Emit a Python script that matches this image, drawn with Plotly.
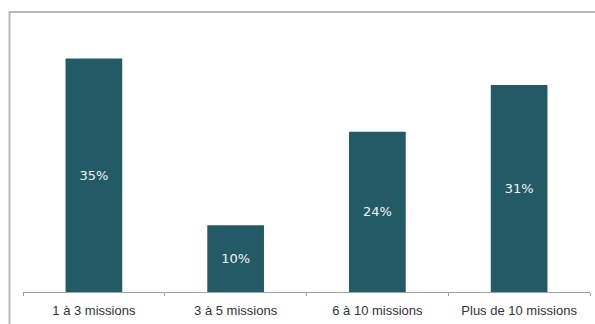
import plotly.graph_objects as go

categories = ["1 à 3 missions", "3 à 5 missions", "6 à 10 missions", "Plus de 10 missions"]
values = [35, 10, 24, 31]
labels = ["35%", "10%", "24%", "31%"]

bar_color = "#225a66"

fig = go.Figure(
    go.Bar(
        x=categories,
        y=values,
        text=labels,
        textposition="inside",
        insidetextanchor="middle",
        textfont=dict(family="DejaVu Sans, sans-serif", size=13, color="#f2f5f6"),
        marker=dict(color=bar_color, line=dict(width=0)),
        width=0.4,
        hoverinfo="skip",
    )
)

fig.update_layout(
    width=595,
    height=324,
    margin=dict(l=22.5, r=4.5, t=25, b=32),
    paper_bgcolor="white",
    plot_bgcolor="white",
    showlegend=False,
    uniformtext=dict(minsize=8, mode="show"),
    shapes=[
        # outer frame (runs off the right and bottom edges)
        dict(
            type="rect",
            xref="paper",
            yref="paper",
            x0=-0.0238,
            x1=1.05,
            y0=-0.3,
            y1=1.0487,
            line=dict(color="#b8b8b8", width=2),
            fillcolor="rgba(0,0,0,0)",
            layer="below",
        )
    ],
)

fig.update_xaxes(
    showline=True,
    linecolor="#a0a0a0",
    linewidth=1,
    ticks="outside",
    tickson="boundaries",
    ticklen=3,
    tickcolor="#a0a0a0",
    ticklabelstandoff=6,
    showgrid=False,
    tickfont=dict(family="Liberation Sans, Arial, sans-serif", size=13, color="#333333"),
    range=[-0.5, 3.5],
)

fig.update_yaxes(
    range=[0, 40],
    visible=False,
    showgrid=False,
    zeroline=False,
)

fig.write_html("out.html")
